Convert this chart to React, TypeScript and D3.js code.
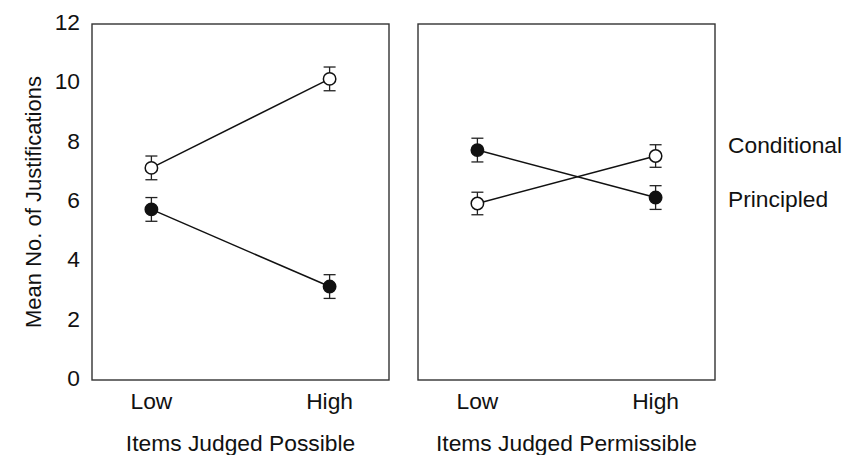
import React from 'react';
import * as d3 from 'd3';

// chart data
const levels = ['Low', 'High'];
const panels = ['Items Judged Possible', 'Items Judged Permissible'];
const conditional = [[7.15, 10.15], [5.95, 7.55]];
const principled = [[5.75, 3.15], [7.75, 6.15]];
const conditionalErr = [[0.4, 0.4], [0.38, 0.38]];
const principledErr = [[0.4, 0.4], [0.4, 0.4]];
const yTicks = [0, 2, 4, 6, 8, 10, 12];
const seriesNames = ['Conditional', 'Principled'];

const WIDTH = 856;
const HEIGHT = 455;
const FONT = 'Liberation Sans, Arial, Helvetica, sans-serif';
const FS = 22.8;

export default function App() {
  const panelLeft = [92, 418];
  const panelWidth = 297;
  const top = 24;
  const bottom = 380;

  const y = d3.scaleLinear().domain([0, 12]).range([bottom, top]);

  const series = [
    { name: seriesNames[0], values: conditional, err: conditionalErr, fill: '#fff' },
    { name: seriesNames[1], values: principled, err: principledErr, fill: '#111' },
  ];

  const line = d3.line<[number, number]>().x((d) => d[0]).y((d) => d[1]);

  return (
    <svg width={WIDTH} height={HEIGHT} style={{ position: 'absolute', left: 0, top: 0 }} fontFamily={FONT}>
      <rect width={WIDTH} height={HEIGHT} fill="#fff" />
      {/* y axis labels, no tick marks */}
      {yTicks.map((t) => (
        <text key={t} x={80} y={y(t)} dy={6} textAnchor="end" fontSize={FS} fill="#111">{t}</text>
      ))}
      <text transform={`translate(41,${(top + bottom) / 2}) rotate(-90)`} textAnchor="middle" fontSize={FS - 0.8} fill="#111">
        Mean No. of Justifications
      </text>
      {panels.map((title, p) => {
        const x = d3.scalePoint<string>()
          .domain(levels)
          .range([panelLeft[p], panelLeft[p] + panelWidth])
          .padding(1 / 3);
        return (
          <g key={title}>
            <rect x={panelLeft[p]} y={top} width={panelWidth} height={bottom - top} fill="none" stroke="#333" strokeWidth={1.4} />
            {levels.map((l) => (
              <text key={l} x={x(l)} y={409} textAnchor="middle" fontSize={FS} fill="#111">{l}</text>
            ))}
            <text x={panelLeft[p] + panelWidth / 2} y={451} textAnchor="middle" fontSize={FS} fill="#111">{title}</text>
            {series.map((s) => {
              const pts: [number, number][] = levels.map((l, i) => [x(l) as number, y(s.values[p][i])]);
              return (
                <g key={s.name}>
                  <path d={line(pts) || ''} fill="none" stroke="#111" strokeWidth={1.5} />
                  {levels.map((l, i) => {
                    const cx = x(l) as number;
                    const v = s.values[p][i];
                    const e = s.err[p][i];
                    return (
                      <g key={l} stroke="#222" strokeWidth={1.3}>
                        <line x1={cx} x2={cx} y1={y(v + e)} y2={y(v - e)} />
                        <line x1={cx - 6} x2={cx + 6} y1={y(v + e)} y2={y(v + e)} />
                        <line x1={cx - 6} x2={cx + 6} y1={y(v - e)} y2={y(v - e)} />
                        <circle cx={cx} cy={y(v)} r={6.2} fill={s.fill} stroke="#111" strokeWidth={1.5} />
                      </g>
                    );
                  })}
                </g>
              );
            })}
          </g>
        );
      })}
      {/* series labels at the right */}
      <text x={728} y={153} fontSize={FS} fill="#111">{seriesNames[0]}</text>
      <text x={728} y={207} fontSize={FS} fill="#111">{seriesNames[1]}</text>
    </svg>
  );
}
